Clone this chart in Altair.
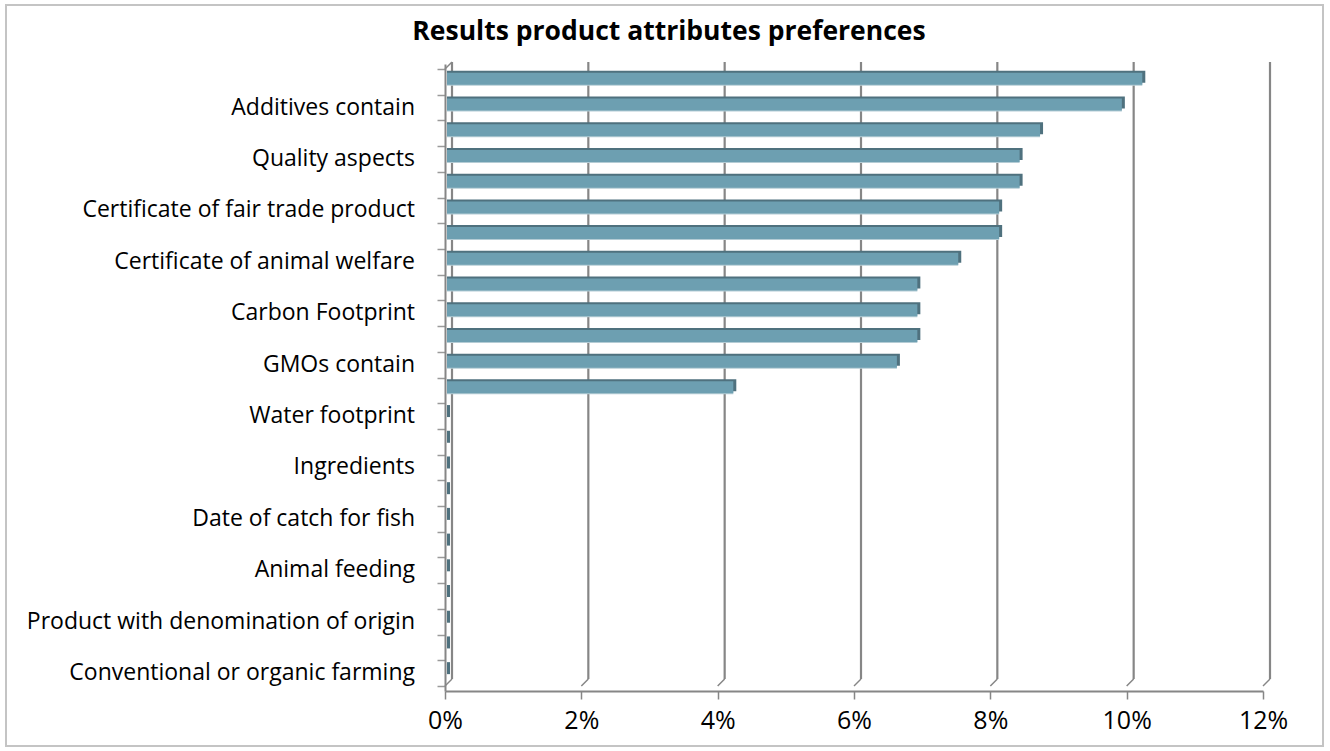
import altair as alt
import pandas as pd

TITLE = "Results product attributes preferences"

# Share of respondents per attribute, listed from the top row to the bottom row
shares = [0.102, 0.099, 0.087, 0.084, 0.084, 0.081, 0.081, 0.075, 0.069, 0.069,
          0.069, 0.066, 0.042, 0.0, 0.0, 0.0, 0.0, 0.0, 0.0, 0.0, 0.0, 0.0, 0.0, 0.0]

# Category labels, bottom to top; the axis names every second row
labels = ["Conventional or organic farming", "Product with denomination of origin",
          "Animal feeding", "Date of catch for fish", "Ingredients", "Water footprint",
          "GMOs contain", "Carbon Footprint", "Certificate of animal welfare",
          "Certificate of fair trade product", "Quality aspects", "Additives contain"]

x_ticks = [0.0, 0.02, 0.04, 0.06, 0.08, 0.10, 0.12]

N_ROWS = len(shares)
FONT = "Open Sans"
GRID = "#868686"
DEPTH = 7  # 3-D depth of the back wall, in pixels

bars = pd.DataFrame({
    "row": [N_ROWS - 1 - i + 0.5 for i in range(N_ROWS)],
    "share": shares,
    "start": [0.0] * N_ROWS,
})
label_df = pd.DataFrame({"row": [2 * k + 0.5 for k in range(len(labels))], "label": labels})
tick_df = pd.DataFrame({"v": x_ticks, "lo": [0] * len(x_ticks), "hi": [N_ROWS] * len(x_ticks)})

xs = alt.Scale(domain=[0, 0.12], nice=False, zero=False)
ys = alt.Scale(domain=[0, N_ROWS], nice=False, zero=False)

# one axis definition per channel, shared by every layer so they merge cleanly
X_AXIS = alt.Axis(
    values=x_ticks, format=".0%", grid=False, title=None, tickSize=8,
    tickColor=GRID, tickWidth=1.5, domainColor=GRID, domainWidth=2,
    labelFont=FONT, labelFontSize=25, labelColor="#000000", labelPadding=9,
    labelFlush=False)
Y_AXIS = alt.Axis(
    values=list(range(N_ROWS + 1)), labels=False, grid=False, title=None,
    tickSize=8, tickColor="#9a9a9a", tickWidth=1.5, domainColor=GRID, domainWidth=2)

W, H = 818, 627

# outer frame of the chart
frame = alt.Chart(pd.DataFrame({"a": [0]})).mark_rect(
    fill=None, stroke="#c4c4c4", strokeWidth=2
).encode(x=alt.value(-439), x2=alt.value(878), y=alt.value(-59), y2=alt.value(682))

title = alt.Chart(pd.DataFrame({"t": [TITLE]})).mark_text(
    font=FONT, fontSize=26.5, fontWeight="bold", color="#000000", baseline="middle"
).encode(x=alt.value(224), y=alt.value(-32), text="t:N")

# back-wall gridlines, shifted up and right for depth
grid = alt.Chart(tick_df).mark_rule(
    color=GRID, strokeWidth=2.2, xOffset=DEPTH, yOffset=-DEPTH, y2Offset=-DEPTH
).encode(
    x=alt.X("v:Q", scale=xs, axis=X_AXIS),
    y=alt.Y("lo:Q", scale=ys, axis=Y_AXIS),
    y2="hi:Q",
)

# floor diagonals joining each front tick to its gridline
floor = alt.Chart(tick_df).mark_rule(
    color=GRID, strokeWidth=1.5, x2Offset=DEPTH, y2Offset=-DEPTH
).encode(
    x=alt.X("v:Q", scale=xs, axis=X_AXIS), x2="v:Q",
    y=alt.Y("lo:Q", scale=ys, axis=Y_AXIS), y2="lo:Q",
)

# top corner of the left wall
wall_top = alt.Chart(tick_df.head(1)).mark_rule(
    color=GRID, strokeWidth=1.5, x2Offset=DEPTH, y2Offset=-DEPTH
).encode(
    x=alt.X("v:Q", scale=xs, axis=X_AXIS), x2="v:Q",
    y=alt.Y("hi:Q", scale=ys, axis=Y_AXIS), y2="hi:Q",
)

bar_enc = dict(
    x=alt.X("share:Q", scale=xs, axis=X_AXIS),
    x2="start:Q",
    y=alt.Y("row:Q", scale=ys, axis=Y_AXIS),
)

bar_light = alt.Chart(bars).mark_bar(
    orient="horizontal", size=12, color="#b4ccd5", xOffset=2, x2Offset=2, yOffset=-2
).encode(**bar_enc)

bar_depth = alt.Chart(bars).mark_bar(
    orient="horizontal", size=12, color="#4f717e", xOffset=5, x2Offset=2, yOffset=-5
).encode(**bar_enc)

bar_front = alt.Chart(bars).mark_bar(
    orient="horizontal", size=12, color="#6d9fb1", xOffset=2, x2Offset=2, yOffset=-3
).encode(**bar_enc)

cat_labels = alt.Chart(label_df).mark_text(
    font=FONT, fontSize=23, align="right", baseline="middle", color="#000000"
).encode(
    x=alt.value(-30),
    y=alt.Y("row:Q", scale=ys, axis=Y_AXIS),
    text="label:N",
)

chart = alt.layer(
    frame, grid, floor, wall_top, bar_light, bar_depth, bar_front, cat_labels, title
).properties(
    width=W, height=H,
    autosize=alt.AutoSizeParams(type="none"),
    padding={"left": 445, "top": 64, "right": 1330 - 445 - W, "bottom": 751 - 64 - H},
    background="#ffffff",
).configure_view(stroke=None)

chart.save("out.html", embed_options={"renderer": "svg", "actions": False})
